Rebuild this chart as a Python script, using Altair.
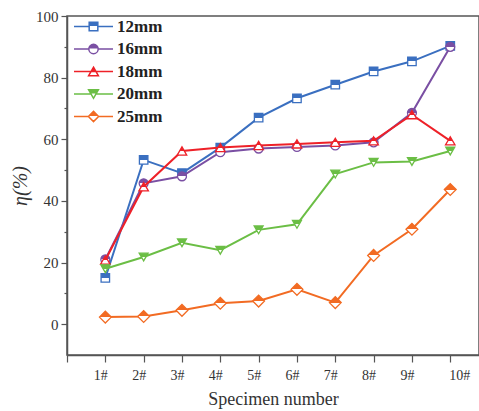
import altair as alt
import pandas as pd

# ---- data ----
specimens = [1, 2, 3, 4, 5, 6, 7, 8, 9, 10]
series_names = ["12mm", "16mm", "18mm", "20mm", "25mm"]
eta_12 = [15.0, 53.3, 49.0, 57.3, 67.0, 73.3, 77.7, 82.0, 85.3, 90.3]
eta_16 = [21.0, 45.7, 48.0, 55.8, 57.0, 57.5, 58.0, 59.0, 68.6, 90.0]
eta_18 = [20.8, 44.6, 56.2, 57.3, 58.0, 58.5, 59.0, 59.5, 68.0, 59.5]
eta_20 = [18.0, 21.8, 26.4, 24.0, 30.6, 32.4, 48.7, 52.5, 52.8, 56.2]
eta_25 = [2.3, 2.5, 4.5, 6.8, 7.5, 11.3, 7.0, 22.3, 30.8, 43.7]
colors = ["#3A6FC0", "#7A4FA3", "#EE2128", "#6BBE45", "#F26B23"]
plot_shapes = ["square", "circle", "triangle-up", "triangle-down", "diamond"]
plot_sizes = [72, 80, 90, 80, 140]

values = [eta_12, eta_16, eta_18, eta_20, eta_25]
rows = []
for name, vals in zip(series_names, values):
    for s, v in zip(specimens, vals):
        rows.append({"series": name, "x": s, "y": v})
df = pd.DataFrame(rows)

# legend symbols: line + hollow marker with the top half hatched (filled)
legend_paths = [
    "M-3.25,0H-0.72M0.72,0H3.25M-0.72,-0.72H0.72V0.72H-0.72Z"
    "M-0.72,-0.55H0.72M-0.72,-0.37H0.72M-0.72,-0.19H0.72",
    "M-3.25,0H-0.78M0.78,0H3.25M-0.78,0A0.78,0.78,0,1,1,0.78,0A0.78,0.78,0,1,1,-0.78,0Z"
    "M-0.55,-0.55H0.55M-0.69,-0.37H0.69M-0.76,-0.19H0.76",
    "M-3.25,0H-0.45M0.45,0H3.25M0,-0.72L0.82,0.72L-0.82,0.72Z"
    "M-0.1,-0.55H0.1M-0.2,-0.37H0.2M-0.3,-0.19H0.3M-0.4,0H0.4",
    "M-3.25,0H-0.4M0.4,0H3.25M-0.82,-0.72L0.82,-0.72L0,0.72Z"
    "M-0.73,-0.55H0.73M-0.62,-0.37H0.62M-0.52,-0.19H0.52",
    "M-3.25,0H-0.85M0.85,0H3.25M0,-0.85L0.85,0L0,0.85L-0.85,0Z"
    "M-0.3,-0.55H0.3M-0.48,-0.37H0.48M-0.66,-0.19H0.66",
]

FONT = "Liberation Serif"

x_enc = alt.X(
    "x:Q",
    scale=alt.Scale(domain=[0, 10.75], nice=False, zero=False),
    axis=alt.Axis(
        values=[0] + specimens,
        labelExpr="datum.value > 0 ? datum.value + '#' : ''",
        title="Specimen number",
        grid=False,
        tickSize=7,
        labelOffset={"condition": {"test": "datum.value === 10", "value": 9}, "value": -5},
        labelFont=FONT, titleFont=FONT,
        labelFontSize=14, labelPadding=6, titleFontSize=18, titlePadding=8,
        titleFontWeight="normal",
    ),
)
y_enc = alt.Y(
    "y:Q",
    scale=alt.Scale(domain=[-10, 100], nice=False, zero=False),
    axis=alt.Axis(
        values=[0, 10, 20, 30, 40, 50, 60, 70, 80, 90, 100],
        labelExpr="datum.value % 20 === 0 ? '' + datum.value : ''",
        tickSize={"condition": {"test": "datum.value % 20 === 0", "value": 6}, "value": 3},
        title="η(%)",
        grid=False,
        labelFont=FONT, titleFont=FONT,
        labelFontSize=15, labelPadding=3, titleFontSize=20, titlePadding=5,
        titleFontWeight="normal", titleFontStyle="italic",
    ),
)

legend_props = dict(
    title=None, orient="none", legendX=18, legendY=2, padding=0,
    symbolSize=144, symbolStrokeWidth=1.5, labelOffset=15, rowPadding=4.5,
    labelFont=FONT, labelFontSize=17, labelFontWeight="bold", labelColor="#222",
)

layers = []
for name, col, shp, sz in zip(series_names, colors, plot_shapes, plot_sizes):
    base = alt.Chart(df).transform_filter(alt.datum.series == name)
    layers.append(base.mark_line(color=col, strokeWidth=2).encode(x=x_enc, y=y_enc))
    grad = {
        "gradient": "linear", "x1": 0, "y1": 0, "x2": 0, "y2": 1,
        "stops": [
            {"offset": 0, "color": col}, {"offset": 0.5, "color": col},
            {"offset": 0.5, "color": "white"}, {"offset": 1, "color": "white"},
        ],
    }
    layers.append(
        base.mark_point(filled=True, fill=grad, stroke=col, strokeWidth=1.3,
                        shape=shp, size=sz, opacity=1).encode(x=x_enc, y=y_enc)
    )

legend_layer = (
    alt.Chart(df)
    .transform_filter("datum.x < 0")
    .mark_point(filled=False, fill="white", strokeWidth=1.5, size=144, opacity=1)
    .encode(
        x=x_enc,
        y=y_enc,
        color=alt.Color("series:N", scale=alt.Scale(domain=series_names, range=colors),
                        legend=alt.Legend(**legend_props)),
        shape=alt.Shape("series:N", scale=alt.Scale(domain=series_names, range=legend_paths),
                        legend=alt.Legend(**legend_props)),
    )
)

chart = (
    alt.layer(legend_layer, *layers)
    .properties(width=412, height=339, autosize=alt.AutoSizeParams(type="none"),
                padding={"left": 67, "top": 16, "right": 0, "bottom": 56})
    .configure_view(stroke="#555", strokeWidth=1.5)
    .configure_axis(
        domainColor="#555", domainWidth=1.5, tickColor="#555", tickWidth=1.2,
        labelFont=FONT, labelColor="#333", titleFont=FONT, titleColor="#333",
    )
)

chart.save("out.html", embed_options={"renderer": "svg", "actions": False})
